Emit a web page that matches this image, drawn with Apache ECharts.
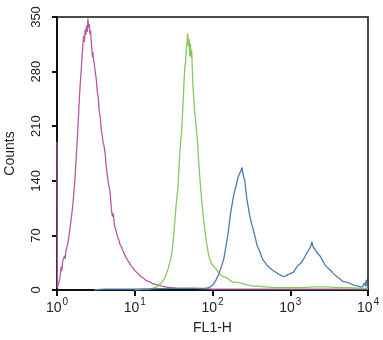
<!DOCTYPE html>
<html>
<head>
<meta charset="utf-8">
<script src="https://cdn.jsdelivr.net/npm/echarts@6/dist/echarts.min.js"></script>
<style>
html,body{margin:0;padding:0;background:#fff;}
#chart{width:383px;height:340px;}
</style>
</head>
<body>
<div id="chart"></div>
<script>
// FL1-H (log scale) vs Counts, three histograms
var xTickValues = [1, 10, 100, 1000, 10000];
var yTickValues = [0, 70, 140, 210, 280, 350];

var magentaSeries = [
  [1, 190], [1.01, 3], [1.04, 5], [1.07, 12], [1.1, 18], [1.13, 30], [1.15, 24], [1.18, 36], [1.2, 34],
  [1.25, 44], [1.28, 40], [1.3, 50], [1.35, 56], [1.4, 64], [1.45, 75], [1.5, 86], [1.55, 97], [1.6, 110],
  [1.65, 125], [1.7, 142], [1.75, 162], [1.8, 184], [1.85, 205], [1.9, 228], [1.95, 250], [2.0, 268],
  [2.05, 282], [2.1, 300], [2.15, 314], [2.2, 326], [2.25, 318], [2.3, 334], [2.35, 327], [2.4, 339],
  [2.45, 331], [2.5, 348], [2.55, 336], [2.6, 341], [2.65, 328], [2.7, 333], [2.75, 320], [2.8, 318],
  [2.85, 299], [2.9, 305], [2.95, 295], [3.0, 292], [3.1, 280], [3.2, 270], [3.3, 254], [3.4, 246],
  [3.5, 228], [3.6, 222], [3.7, 206], [3.8, 200], [3.9, 190], [4.0, 186], [4.15, 176], [4.3, 158],
  [4.45, 146], [4.6, 136], [4.8, 126], [5.0, 104], [5.15, 94], [5.3, 98], [5.5, 82], [5.75, 76],
  [6.0, 68], [6.25, 64], [6.5, 58], [6.75, 55], [7.0, 51], [7.25, 48], [7.5, 44], [7.75, 42], [8.0, 39],
  [8.5, 35], [9.0, 31], [9.5, 28], [10, 25], [10.5, 23], [11, 21], [11.5, 19], [12, 17], [12.5, 16],
  [13, 15], [13.5, 14], [14, 12], [15, 11], [16, 10], [17, 8], [18, 7], [19, 7], [20, 6], [22, 5],
  [25, 4], [28, 3], [30, 3], [35, 2], [40, 2], [60, 2], [100, 1], [300, 1], [1000, 1], [3000, 1],
  [8000, 1], [10000, 1]
];

var greenSeries = [
  [10, 0], [13, 1], [15, 1], [17, 2], [18, 3], [19, 4], [20, 5], [21, 7], [22, 9], [23, 12], [24, 15],
  [25, 18], [26, 23], [27, 28], [28, 34], [29, 40], [30, 48], [31, 60], [32, 75], [33, 92], [34, 108],
  [35, 120], [36, 132], [37, 155], [38, 176], [39, 190], [40, 202], [41, 222], [42, 245], [43, 266],
  [44, 285], [45, 292], [46, 306], [47, 318], [48, 329], [49, 312], [50, 322], [51, 300], [52, 316],
  [53, 298], [54, 308], [55, 282], [56, 262], [57, 250], [58, 240], [59, 228], [60, 222], [62, 206],
  [64, 192], [66, 170], [68, 150], [70, 134], [73, 112], [76, 94], [80, 76], [84, 60], [88, 48],
  [93, 38], [100, 32], [106, 29], [113, 26], [120, 22], [130, 19], [138, 17], [150, 16], [160, 14],
  [170, 12], [185, 10], [200, 10], [226, 9], [250, 8], [275, 7], [300, 6], [332, 5], [400, 5], [450, 4],
  [500, 4], [600, 3], [800, 3], [1000, 3], [1500, 3], [2000, 4], [3000, 4], [4000, 3], [6000, 3],
  [8000, 2], [10000, 2]
];

var blueSeries = [
  [3, 0], [4, 1], [10, 1], [30, 2], [60, 2], [80, 2], [90, 3], [100, 6], [110, 12], [120, 20], [130, 30],
  [140, 40], [150, 58], [160, 75], [170, 97], [180, 112], [190, 125], [200, 132], [210, 142], [220, 148],
  [230, 152], [235, 150], [240, 157], [245, 150], [250, 146], [260, 140], [275, 118], [290, 105],
  [300, 96], [310, 90], [320, 84], [330, 80], [340, 74], [350, 70], [365, 62], [380, 55], [395, 52],
  [410, 48], [430, 42], [450, 38], [475, 35], [500, 32], [525, 30], [550, 28], [575, 26], [600, 25],
  [635, 23], [670, 22], [710, 20], [750, 19], [790, 17], [830, 17], [870, 18], [900, 19], [950, 20],
  [1000, 21], [1050, 22], [1100, 23], [1150, 26], [1200, 28], [1250, 31], [1300, 33], [1350, 34],
  [1400, 36], [1450, 38], [1500, 40], [1550, 43], [1600, 46], [1650, 48], [1700, 50], [1750, 52],
  [1800, 54], [1850, 57], [1900, 62], [1950, 56], [2000, 55], [2050, 53], [2100, 51], [2200, 48],
  [2300, 46], [2400, 44], [2500, 41], [2600, 38], [2700, 35], [2800, 32], [2900, 30], [3000, 29],
  [3150, 27], [3300, 25], [3450, 23], [3600, 21], [3800, 19], [4000, 17], [4250, 15], [4500, 13],
  [4750, 11], [5000, 10], [5300, 10], [5600, 9], [6000, 8], [6300, 7], [6700, 6], [7000, 6],
  [7500, 5], [8000, 4], [8500, 4], [9000, 9], [9300, 5], [9500, 13], [9800, 4], [10000, 3]
];

var seriesColors = { magenta: '#b8599f', green: '#8cc660', blue: '#4b7db0' };

var chart = echarts.init(document.getElementById('chart'), null, { renderer: 'canvas' });
var fontFamily = '"Liberation Sans", Arial, sans-serif';

function lineSeries(name, data, color) {
  return {
    name: name,
    type: 'line',
    data: data,
    showSymbol: false,
    symbol: 'none',
    smooth: false,
    lineStyle: { width: 1.3, color: color },
    itemStyle: { color: color },
    silent: true
  };
}

chart.setOption({
  animation: false,
  backgroundColor: '#fff',
  textStyle: { fontFamily: fontFamily },
  grid: {
    left: 57, right: 15, top: 17, bottom: 50,
    outerBoundsMode: 'none',
    containLabel: false,
    show: true, borderColor: '#111', borderWidth: 1.5, backgroundColor: 'transparent'
  },
  xAxis: {
    type: 'log',
    logBase: 10,
    min: xTickValues[0],
    max: xTickValues[xTickValues.length - 1],
    name: 'FL1-H',
    nameLocation: 'middle',
    nameGap: 31,
    nameTextStyle: { fontSize: 14, color: '#222', fontFamily: fontFamily },
    axisLine: { show: true, lineStyle: { color: '#111', width: 2 } },
    axisTick: { show: true, length: 6, lineStyle: { color: '#111', width: 2 } },
    minorTick: { show: false },
    splitLine: { show: false },
    axisLabel: {
      margin: 7,
      color: '#222',
      formatter: function (v) {
        var e = Math.round(Math.log(v) / Math.LN10);
        return '{b|10}{s|' + e + '}';
      },
      rich: {
        b: { fontSize: 14, color: '#222', fontFamily: fontFamily, verticalAlign: 'bottom', lineHeight: 18 },
        s: { fontSize: 10, color: '#222', fontFamily: fontFamily, verticalAlign: 'top', lineHeight: 18, padding: [0, 0, 6, 1] }
      }
    }
  },
  yAxis: {
    type: 'value',
    min: yTickValues[0],
    max: yTickValues[yTickValues.length - 1],
    interval: 70,
    name: 'Counts',
    nameLocation: 'middle',
    nameRotate: 90,
    nameGap: 40,
    nameTextStyle: { fontSize: 14, color: '#222', fontFamily: fontFamily },
    axisLine: { show: true, lineStyle: { color: '#111', width: 2 } },
    axisTick: { show: true, length: 5, lineStyle: { color: '#111', width: 2 } },
    splitLine: { show: false },
    axisLabel: { rotate: 90, margin: 14, fontSize: 13, color: '#222', fontFamily: fontFamily }
  },
  series: [
    lineSeries('magenta', magentaSeries, seriesColors.magenta),
    lineSeries('green', greenSeries, seriesColors.green),
    lineSeries('blue', blueSeries, seriesColors.blue)
  ]
});
</script>
</body>
</html>
